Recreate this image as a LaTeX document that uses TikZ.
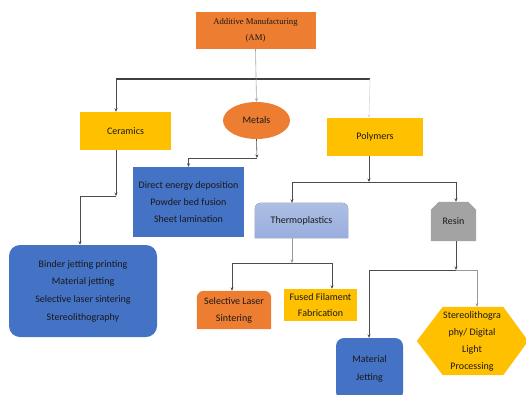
\documentclass[tikz,border=0pt]{standalone}
\usepackage{fontspec}
\setmainfont{Carlito}
\newfontfamily\amfont{Liberation Serif}
\usetikzlibrary{arrows.meta,shapes.geometric,backgrounds}

\definecolor{amorange}{HTML}{ED7D31}
\definecolor{amgold}{HTML}{FFC000}
\definecolor{amblue}{HTML}{4472C4}
\definecolor{amlight}{HTML}{98AEDD}
\definecolor{amgray}{HTML}{A3A3A3}

\begin{document}
\begin{tikzpicture}[x=1pt, y=-1pt,
    box/.style={inner sep=1pt, align=center, text=black!90, font=\fontsize{10}{17}\selectfont},
    goldbox/.style={box, fill=amgold},
    bluebox/.style={box, fill=amblue},
    arr/.style={draw=black!70, line width=0.6pt, -{Stealth[length=3.5pt,width=3pt]}},
    bar/.style={draw=black!75, line width=1.3pt}]
    \useasboundingbox (0,0) rectangle (526,394);
    \clip (0,0) rectangle (526,394);

    \node[box, fill=amorange, minimum width=120, minimum height=37, font=\amfont\fontsize{8.7}{16}\selectfont] (am) at (255.5, 30.5) {Additive Manufacturing\\(AM)};
    \node[goldbox, minimum width=91, minimum height=38] (cer) at (125.5, 131) {Ceramics};
    \node[box, ellipse, fill=amorange, minimum width=67, minimum height=37] (met) at (256.5, 120.5) {Metals};
    \node[goldbox, minimum width=96, minimum height=38] (pol) at (375, 137) {Polymers};
    \node[bluebox, minimum width=111, minimum height=70] (ded) at (188.5, 202) {Direct energy deposition\\Powder bed fusion\\Sheet lamination};
    \node[bluebox, rounded corners=11pt, minimum width=148, minimum height=92, font=\fontsize{10}{17.7}\selectfont] (bin) at (83, 291) {Binder jetting printing\\Material jetting\\Selective laser sintering\\Stereolithography};
    \node[box, minimum width=93, minimum height=35] (thm) at (301.5, 220.5) {Thermoplastics};
    \node[box, minimum width=45, minimum height=39] (res) at (453.5, 221.5) {Resin};
    \node[box, minimum width=74, minimum height=38] (sls) at (234, 310) {Selective Laser\\Sintering};
    \node[goldbox, minimum width=73, minimum height=32, font=\fontsize{10}{16}\selectfont] (fff) at (320.5, 305) {Fused Filament\\Fabrication};
    \node[bluebox, rounded corners=8pt, minimum width=67, minimum height=62, font=\fontsize{10}{18}\selectfont] (mj) at (369.5, 369) {Material\\Jetting};
    \node[box, minimum width=110, minimum height=68] (hex) at (472, 341) {Stereolithogra\\phy/ Digital\\Light\\Processing};

    % shapes that a plain node can not give
    \begin{scope}[on background layer]
        \fill[top color=amlight!80, bottom color=amlight, rounded corners=6pt] (thm.south west) -- (thm.north west) -- (thm.north east) [sharp corners] -- (thm.south east) -- cycle;
        \fill[amgray] (res.south west) -- ([yshift=-8pt]res.north west) -- ([xshift=8pt]res.north west) -- ([xshift=-8pt]res.north east) -- ([yshift=-8pt]res.north east) -- (res.south east) -- cycle;
        \fill[amorange, rounded corners=7pt] (sls.south west) -- (sls.north west) -- (sls.north east) [sharp corners] -- (sls.south east) -- cycle;
        \fill[amgold] (hex.west) -- ([xshift=26pt]hex.north west) -- ([xshift=-24pt]hex.north east) -- ([xshift=1pt]hex.east) -- ([xshift=-24pt]hex.south east) -- ([xshift=26pt]hex.south west) -- cycle;
    \end{scope}

    \coordinate (bl) at (116, 79);
    \coordinate (br) at (370, 79);
    \coordinate (cj) at (116, 196);
    \coordinate (mtj) at (257, 158);
    \coordinate (pj) at (369, 182);
    \coordinate (tj) at (292, 263);
    \coordinate (rj) at (456, 270);

    \draw[bar] (bl) -- (br);
    \draw[arr, draw=black!35] (am.south) -- (met.north);
    \draw[arr] (bl) -- (cer.north -| bl);
    \draw[arr, draw=black!15] (br) -- ([xshift=-6pt]pol.north);

    \draw[arr] (cer.south -| cj) -- (cj);
    \draw[arr] (cj) -| ([xshift=-3pt]bin.north);
    \draw[arr] (met.south) -- (mtj);
    \draw[arr] (mtj) -| (ded.north);

    \draw[arr] ([xshift=-6pt]pol.south) -- (pj);
    \draw[arr] (pj) -| ([xshift=-9.5pt]thm.north);
    \draw[arr] (pj) -| ([xshift=2.5pt]res.north);

    \draw[arr, draw=black!40] (thm.south -| tj) -- (tj);
    \draw[arr] (tj) -| ([xshift=-2pt]sls.north);
    \draw[arr] (tj) -| ([xshift=11.5pt]fff.north);

    \draw[arr] ([xshift=2.5pt]res.south) -- (rj);
    \draw[arr] (rj) -| ([xshift=-0.5pt]mj.north);
    \draw[arr, draw=black!40] (rj) -| ([xshift=5pt]hex.north);
\end{tikzpicture}
\end{document}
